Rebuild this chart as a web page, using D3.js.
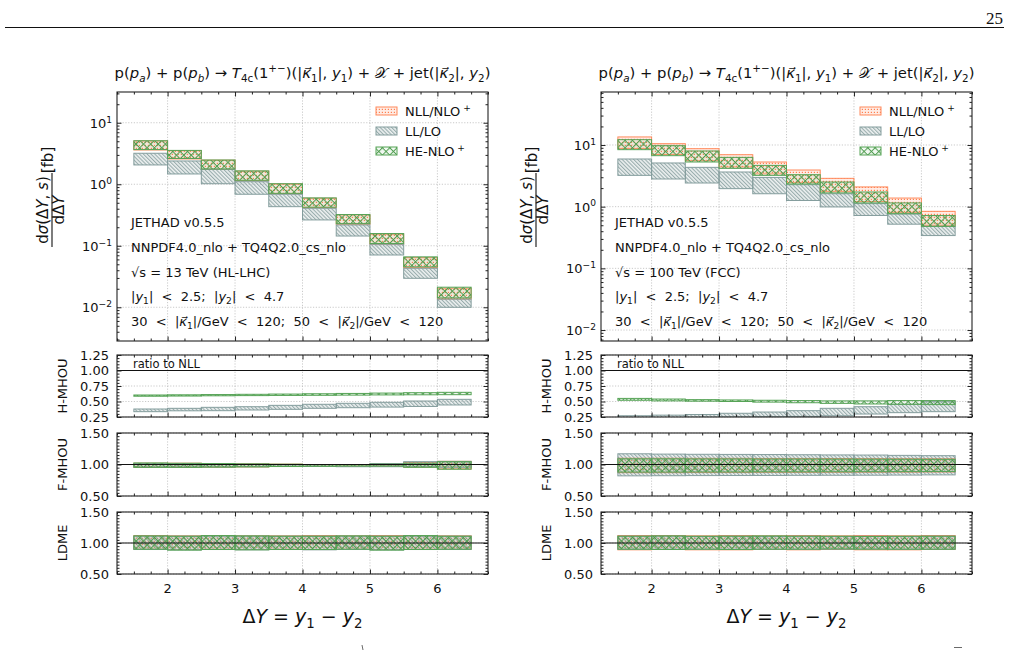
<!DOCTYPE html>
<html>
<head>
<meta charset="utf-8">
<script src="https://cdn.jsdelivr.net/npm/d3@7"></script>
<style>
  body { margin: 0; background: #fff; }
  svg { font-family: "DejaVu Sans", sans-serif; }
  text { white-space: pre; fill: #111; }
  .grid { stroke: #bdbdbd; stroke-width: 0.8; stroke-dasharray: 1.2,1.6; }
  .tick line { stroke: #222; }
</style>
</head>
<body>
<svg id="chart" width="1010" height="653"></svg>
<script>
// histogram bins in DeltaY: lower edge, width 0.5
const binLo = [1.5, 2, 2.5, 3, 3.5, 4, 4.5, 5, 5.5, 6];
const binWidth = 0.5;
const xTicks = [2, 3, 4, 5, 6];

// sqrt(s) = 13 TeV, dsigma/dDeltaY [fb], each bin [lo, hi]
const lhcNll = [[3.61,5.06],[2.58,3.52],[1.75,2.46],[1.14,1.63],[0.703,1.01],[0.417,0.592],[0.224,0.317],[0.106,0.154],[0.0441,0.0641],[0.0136,0.0204]];
const lhcLl  = [[2.06,3.19],[1.47,2.39],[1.02,1.75],[0.688,1.10],[0.432,0.688],[0.263,0.407],[0.144,0.218],[0.0708,0.106],[0.0296,0.0431],[0.0100,0.0136]];
const lhcHe  = [[3.66,5.10],[2.62,3.55],[1.77,2.48],[1.16,1.65],[0.712,1.02],[0.424,0.600],[0.229,0.322],[0.109,0.158],[0.0455,0.0660],[0.0142,0.0212]];

// sqrt(s) = 100 TeV
const fccNll = [[8.8,13.5],[7.0,10.5],[5.55,8.71],[4.4,6.96],[3.4,5.3],[2.45,3.93],[1.75,2.88],[1.21,2.09],[0.81,1.38],[0.50,0.84]];
const fccLl  = [[3.22,5.93],[2.81,5.11],[2.42,4.34],[1.96,3.65],[1.62,2.98],[1.26,2.27],[0.99,1.62],[0.72,1.12],[0.52,0.76],[0.34,0.48]];
const fccHe  = [[8.4,12.2],[6.71,9.74],[5.3,8.0],[4.18,6.3],[3.22,4.67],[2.33,3.30],[1.67,2.51],[1.15,1.73],[0.77,1.15],[0.48,0.72]];

// ratio to NLL, 13 TeV
const lhcHmhouLl = [[0.336,0.379],[0.350,0.390],[0.352,0.406],[0.363,0.416],[0.374,0.438],[0.390,0.455],[0.400,0.471],[0.410,0.487],[0.420,0.508],[0.444,0.535]];
const lhcHmhouHe = [[0.585,0.605],[0.588,0.608],[0.592,0.612],[0.595,0.616],[0.598,0.620],[0.600,0.625],[0.603,0.630],[0.606,0.636],[0.608,0.642],[0.610,0.648]];
const lhcFmhouNll = [[0.955,1.020],[0.955,1.020],[0.958,1.015],[0.962,1.010],[0.968,1.005],[0.972,1.000],[0.975,1.000],[0.975,1.010],[0.960,1.030],[0.930,1.050]];
const lhcFmhouLl  = [[0.960,1.015],[0.960,1.015],[0.962,1.010],[0.965,1.005],[0.970,1.000],[0.970,0.998],[0.965,1.000],[0.965,1.015],[0.970,1.045],[0.955,1.050]];
const lhcFmhouHe  = [[0.955,1.025],[0.955,1.020],[0.958,1.015],[0.962,1.010],[0.968,1.005],[0.972,1.000],[0.975,1.000],[0.975,1.005],[0.955,1.020],[0.925,1.045]];
const lhcLdmeNll = [[0.900,1.120],[0.895,1.115],[0.900,1.120],[0.895,1.115],[0.900,1.115],[0.895,1.120],[0.900,1.115],[0.895,1.120],[0.900,1.115],[0.900,1.115]];
const lhcLdmeLl  = [[0.895,1.110],[0.890,1.110],[0.895,1.110],[0.890,1.110],[0.895,1.110],[0.890,1.110],[0.895,1.110],[0.890,1.110],[0.895,1.110],[0.895,1.110]];
const lhcLdmeHe  = [[0.900,1.115],[0.885,1.110],[0.895,1.120],[0.890,1.115],[0.895,1.110],[0.895,1.110],[0.900,1.115],[0.885,1.110],[0.895,1.120],[0.900,1.110]];

// ratio to NLL, 100 TeV
const fccHmhouLl = [[0.240,0.270],[0.240,0.280],[0.245,0.290],[0.250,0.310],[0.255,0.330],[0.260,0.352],[0.270,0.390],[0.298,0.416],[0.320,0.455],[0.336,0.497]];
const fccHmhouHe = [[0.520,0.550],[0.510,0.540],[0.505,0.530],[0.500,0.525],[0.490,0.520],[0.480,0.515],[0.470,0.510],[0.460,0.510],[0.455,0.515],[0.450,0.515]];
const fccFmhouNll = [[0.870,1.100],[0.870,1.100],[0.872,1.098],[0.872,1.098],[0.875,1.096],[0.875,1.096],[0.876,1.095],[0.877,1.094],[0.878,1.093],[0.880,1.092]];
const fccFmhouLl  = [[0.820,1.170],[0.822,1.165],[0.824,1.162],[0.825,1.160],[0.826,1.158],[0.828,1.155],[0.829,1.152],[0.830,1.150],[0.832,1.145],[0.835,1.140]];
const fccFmhouHe  = [[0.880,1.090],[0.880,1.090],[0.882,1.088],[0.882,1.088],[0.884,1.086],[0.884,1.086],[0.885,1.085],[0.886,1.084],[0.887,1.083],[0.888,1.082]];
const fccLdmeNll = [[0.890,1.120],[0.895,1.120],[0.890,1.115],[0.890,1.120],[0.895,1.115],[0.890,1.120],[0.895,1.115],[0.890,1.120],[0.890,1.115],[0.895,1.120]];
const fccLdmeLl  = [[0.900,1.110],[0.900,1.110],[0.900,1.105],[0.900,1.110],[0.900,1.105],[0.900,1.110],[0.900,1.105],[0.905,1.110],[0.900,1.105],[0.900,1.110]];
const fccLdmeHe  = [[0.900,1.110],[0.895,1.115],[0.900,1.110],[0.895,1.110],[0.900,1.115],[0.900,1.110],[0.905,1.110],[0.900,1.105],[0.900,1.110],[0.900,1.110]];

const hmhouTicks = [0.25, 0.5, 0.75, 1.0, 1.25];
const wideTicks = [0.5, 1.0, 1.5];

const svg = d3.select("#chart");
const defs = svg.append("defs");

// hatch patterns
const pN = defs.append("pattern").attr("id", "hNll").attr("patternUnits", "userSpaceOnUse").attr("width", 3).attr("height", 3);
pN.append("rect").attr("width", 3).attr("height", 3).attr("fill", "rgba(255,150,110,0.18)");
pN.append("rect").attr("x", 0.8).attr("y", 0.8).attr("width", 1.2).attr("height", 1.2).attr("fill", "#ff8050");

const pL = defs.append("pattern").attr("id", "hLl").attr("patternUnits", "userSpaceOnUse").attr("width", 2.7).attr("height", 2.7).attr("patternTransform", "rotate(-45)");
pL.append("rect").attr("width", 2.7).attr("height", 2.7).attr("fill", "rgba(160,180,180,0.2)");
pL.append("line").attr("x1", 0.6).attr("x2", 0.6).attr("y1", 0).attr("y2", 2.7).attr("stroke", "#7a9494").attr("stroke-width", 0.8);

const pH = defs.append("pattern").attr("id", "hHe").attr("patternUnits", "userSpaceOnUse").attr("width", 5.2).attr("height", 5.2).attr("patternTransform", "rotate(45)");
pH.append("rect").attr("width", 5.2).attr("height", 5.2).attr("fill", "rgba(140,200,140,0.12)");
pH.append("line").attr("x1", 0.5).attr("x2", 0.5).attr("y1", 0).attr("y2", 5.2).attr("stroke", "#4f9d4f").attr("stroke-width", 1);
pH.append("line").attr("y1", 0.5).attr("y2", 0.5).attr("x1", 0).attr("x2", 5.2).attr("stroke", "#4f9d4f").attr("stroke-width", 1);

const styles = {
  nll: { pat: "hNll", stroke: "#ff8a5c" },
  ll:  { pat: "hLl",  stroke: "#849d9d" },
  he:  { pat: "hHe",  stroke: "#56a356" }
};

// text with italics / sub / superscripts
function rich(sel, parts, size) {
  let shift = 0;
  parts.forEach(([s, kind]) => {
    kind = kind || "";
    let target = 0;
    if (kind.includes("sub")) target = size * 0.24;
    if (kind.includes("sup")) target = -size * 0.4;
    const t = sel.append("tspan").text(s).attr("dy", target - shift);
    shift = target;
    if (target !== 0) t.attr("font-size", size * 0.7);
    if (kind.includes("it")) t.attr("font-style", "italic");
  });
}
function label(g, x, y, parts, size, anchor) {
  const t = g.append("text").attr("x", x).attr("y", y).attr("font-size", size).attr("text-anchor", anchor || "start");
  rich(t, parts, size);
  return t;
}

const kap = "\u03ba\u20d7";
const titleParts = [["p("],["p","it"],["a","itsub"],[") + p("],["p","it"],["b","itsub"],[") \u2192 "],["T","it"],["4c","sub"],["(1"],["+\u2212","sup"],[")(|"],[kap,"it"],["1","sub"],["|, "],["y","it"],["1","sub"],[") + "],["\ud835\udcb3"],[" + jet(|"],[kap,"it"],["2","sub"],["|, "],["y","it"],["2","sub"],[")"]];

const columns = [
  { x0: 117, logDomain: [0.00283, 31.6], energy: "\u221as = 13 TeV (HL-LHC)",
    main: [lhcNll, lhcLl, lhcHe], hm: [lhcHmhouLl, lhcHmhouHe],
    fm: [lhcFmhouNll, lhcFmhouLl, lhcFmhouHe], ld: [lhcLdmeNll, lhcLdmeLl, lhcLdmeHe] },
  { x0: 601, logDomain: [0.00664, 72.3], energy: "\u221as = 100 TeV (FCC)",
    main: [fccNll, fccLl, fccHe], hm: [fccHmhouLl, fccHmhouHe],
    fm: [fccFmhouNll, fccFmhouLl, fccFmhouHe], ld: [fccLdmeNll, fccLdmeLl, fccLdmeHe] }
];
const panelW = 371;
// [bottom, top] pixel rows
const rows = { main: [341, 92], hm: [417, 355], fm: [496, 433], ld: [574, 512] };

let clipId = 0;
function bands(g, x, y, data, st) {
  g.append("g").selectAll("rect").data(data).join("rect")
    .attr("x", (d, i) => x(binLo[i]))
    .attr("width", (d, i) => x(binLo[i] + binWidth) - x(binLo[i]))
    .attr("y", d => y(d[1]))
    .attr("height", d => y(d[0]) - y(d[1]))
    .attr("fill", "url(#" + st.pat + ")")
    .attr("stroke", st.stroke)
    .attr("stroke-width", 1);
}

function frame(g, x, y, yMaj, yMin) {
  const [x0, x1] = x.range(), [yb, yt] = y.range();
  const xMinor = d3.range(1.25, 6.76, 0.25).filter(v => Math.abs(v - Math.round(v)) > 0.01);
  const mk = (axis, tr) => g.append("g").attr("transform", tr).call(axis).call(s => s.select(".domain").remove());
  mk(d3.axisBottom(x).tickValues(xTicks).tickSize(-4.5).tickFormat(""), `translate(0,${yb})`);
  mk(d3.axisBottom(x).tickValues(xMinor).tickSize(-2.5).tickFormat(""), `translate(0,${yb})`);
  mk(d3.axisTop(x).tickValues(xTicks).tickSize(-4.5).tickFormat(""), `translate(0,${yt})`);
  mk(d3.axisTop(x).tickValues(xMinor).tickSize(-2.5).tickFormat(""), `translate(0,${yt})`);
  mk(d3.axisLeft(y).tickValues(yMaj).tickSize(-4.5).tickFormat(""), `translate(${x0},0)`);
  mk(d3.axisLeft(y).tickValues(yMin).tickSize(-2.5).tickFormat(""), `translate(${x0},0)`);
  mk(d3.axisRight(y).tickValues(yMaj).tickSize(-4.5).tickFormat(""), `translate(${x1},0)`);
  mk(d3.axisRight(y).tickValues(yMin).tickSize(-2.5).tickFormat(""), `translate(${x1},0)`);
  g.append("rect").attr("x", x0).attr("y", yt).attr("width", x1 - x0).attr("height", yb - yt)
    .attr("fill", "none").attr("stroke", "#222").attr("stroke-width", 1.1);
}

function grid(g, x, y, yVals) {
  const [x0, x1] = x.range(), [yb, yt] = y.range();
  g.append("g").selectAll("line").data(xTicks).join("line").attr("class", "grid")
    .attr("x1", d => x(d)).attr("x2", d => x(d)).attr("y1", yt).attr("y2", yb);
  g.append("g").selectAll("line").data(yVals).join("line").attr("class", "grid")
    .attr("x1", x0).attr("x2", x1).attr("y1", d => y(d)).attr("y2", d => y(d));
}

function clipped(g, x, y) {
  const [x0, x1] = x.range(), [yb, yt] = y.range();
  const id = "clip" + (clipId++);
  defs.append("clipPath").attr("id", id).append("rect").attr("x", x0).attr("y", yt).attr("width", x1 - x0).attr("height", yb - yt);
  return g.append("g").attr("clip-path", `url(#${id})`);
}

function ratioPanel(g, x, row, domain, majors, bandList, name) {
  const y = d3.scaleLinear().domain(domain).range(row);
  grid(g, x, y, majors);
  const inner = clipped(g, x, y);
  bandList.forEach(([data, st]) => bands(inner, x, y, data, st));
  inner.append("line").attr("x1", x.range()[0]).attr("x2", x.range()[1])
    .attr("y1", y(1)).attr("y2", y(1)).attr("stroke", "#111").attr("stroke-width", 1);
  const minors = d3.range(domain[0], domain[1] + 1e-6, 0.05).filter(v => !majors.some(m => Math.abs(m - v) < 1e-6));
  frame(g, x, y, majors, minors);
  majors.forEach(v => label(g, x.range()[0] - 8, y(v) + 4.7, [[v.toFixed(2)]], 13, "end"));
  const cy = (row[0] + row[1]) / 2;
  g.append("text").attr("transform", `translate(${x.range()[0] - 50},${cy}) rotate(-90)`)
    .attr("text-anchor", "middle").attr("font-size", 13).text(name);
  return y;
}

columns.forEach(col => {
  const g = svg.append("g");
  const x = d3.scaleLinear().domain([1.25, 6.75]).range([col.x0, col.x0 + panelW]);
  const cx = col.x0 + panelW / 2;

  label(g, cx, 78, titleParts, 14.8, "middle");

  // main log panel
  const y = d3.scaleLog().domain(col.logDomain).range(rows.main);
  const all = y.ticks();
  const yMaj = all.filter(v => Math.abs(Math.log10(v) - Math.round(Math.log10(v))) < 1e-6);
  const yMin = all.filter(v => !yMaj.includes(v));
  grid(g, x, y, yMaj);
  const inner = clipped(g, x, y);
  bands(inner, x, y, col.main[0], styles.nll);
  bands(inner, x, y, col.main[1], styles.ll);
  bands(inner, x, y, col.main[2], styles.he);
  frame(g, x, y, yMaj, yMin);
  yMaj.forEach(v => {
    const k = Math.round(Math.log10(v));
    label(g, col.x0 - 5, y(v) + 5, [["10"], [String(k).replace("-", "\u2212"), "sup"]], 13, "end");
  });

  // y label: fraction
  const yl = g.append("g").attr("transform", `translate(${col.x0 - 65},210) rotate(-90)`);
  label(yl, 0, -4, [["d"], ["\u03c3", "it"], ["(\u0394"], ["Y", "it"], [", "], ["s", "it"], [")"]], 15, "middle");
  label(yl, 0, 12, [["d\u0394"], ["Y", "it"]], 15, "middle");
  yl.append("line").attr("x1", -37).attr("x2", 37).attr("y1", 0).attr("y2", 0).attr("stroke", "#111").attr("stroke-width", 1.1);
  label(yl, 50, 1, [["[fb]"]], 15, "middle");

  // legend
  const lg = g.append("g");
  [["NLL/NLO", styles.nll, true], ["LL/LO", styles.ll, false], ["HE-NLO", styles.he, true]].forEach(([name, st, plus], i) => {
    const ly = 111 + i * 20;
    lg.append("rect").attr("x", col.x0 + 259).attr("y", ly - 4).attr("width", 21).attr("height", 8)
      .attr("fill", "url(#" + st.pat + ")").attr("stroke", st.stroke).attr("stroke-width", 1);
    label(lg, col.x0 + 288, ly + 5, plus ? [[name], [" +", "sup"]] : [[name]], 13, "start");
  });

  // info block
  const info = [
    [["JETHAD v0.5.5"]],
    [["NNPDF4.0_nlo + TQ4Q2.0_cs_nlo"]],
    [[col.energy]],
    [["|"], ["y", "it"], ["1", "sub"], ["|  <  2.5;  |"], ["y", "it"], ["2", "sub"], ["|  <  4.7"]],
    [["30  <  |"], [kap, "it"], ["1", "sub"], ["|/GeV  <  120;  50  <  |"], [kap, "it"], ["2", "sub"], ["|/GeV  <  120"]]
  ];
  const infoY = [226.5, 252, 277, 301, 326];
  info.forEach((p, i) => label(g, col.x0 + 14, infoY[i], p, 13, "start"));

  // ratio panels
  ratioPanel(g, x, rows.hm, [0.25, 1.25], hmhouTicks,
    [[col.hm[0], styles.ll], [col.hm[1], styles.he]], "H-MHOU");
  g.append("text").attr("x", col.x0 + 16).attr("y", 368).attr("font-size", 11.5).text("ratio to NLL");
  ratioPanel(g, x, rows.fm, [0.5, 1.5], wideTicks,
    [[col.fm[0], styles.nll], [col.fm[1], styles.ll], [col.fm[2], styles.he]], "F-MHOU");
  ratioPanel(g, x, rows.ld, [0.5, 1.5], wideTicks,
    [[col.ld[0], styles.nll], [col.ld[1], styles.ll], [col.ld[2], styles.he]], "LDME");

  // x tick labels and axis title
  xTicks.forEach(v => g.append("text").attr("x", x(v)).attr("y", 593).attr("text-anchor", "middle").attr("font-size", 13).text(v));
  label(g, cx, 623, [["\u0394"], ["Y", "it"], [" = "], ["y", "it"], ["1", "sub"], [" \u2212 "], ["y", "it"], ["2", "sub"]], 19, "middle");
});

// page header
svg.append("line").attr("x1", 5).attr("x2", 1004).attr("y1", 27.5).attr("y2", 27.5).attr("stroke", "#111").attr("stroke-width", 1);
svg.append("text").attr("x", 1003).attr("y", 24).attr("text-anchor", "end")
  .attr("font-family", "Liberation Serif, serif").attr("font-size", 17).text("25");
svg.append("line").attr("x1", 362).attr("x2", 363).attr("y1", 645).attr("y2", 650).attr("stroke", "#444").attr("stroke-width", 0.8);
svg.append("line").attr("x1", 954).attr("x2", 962).attr("y1", 647.5).attr("y2", 647.5).attr("stroke", "#444").attr("stroke-width", 0.8);
</script>
</body>
</html>
